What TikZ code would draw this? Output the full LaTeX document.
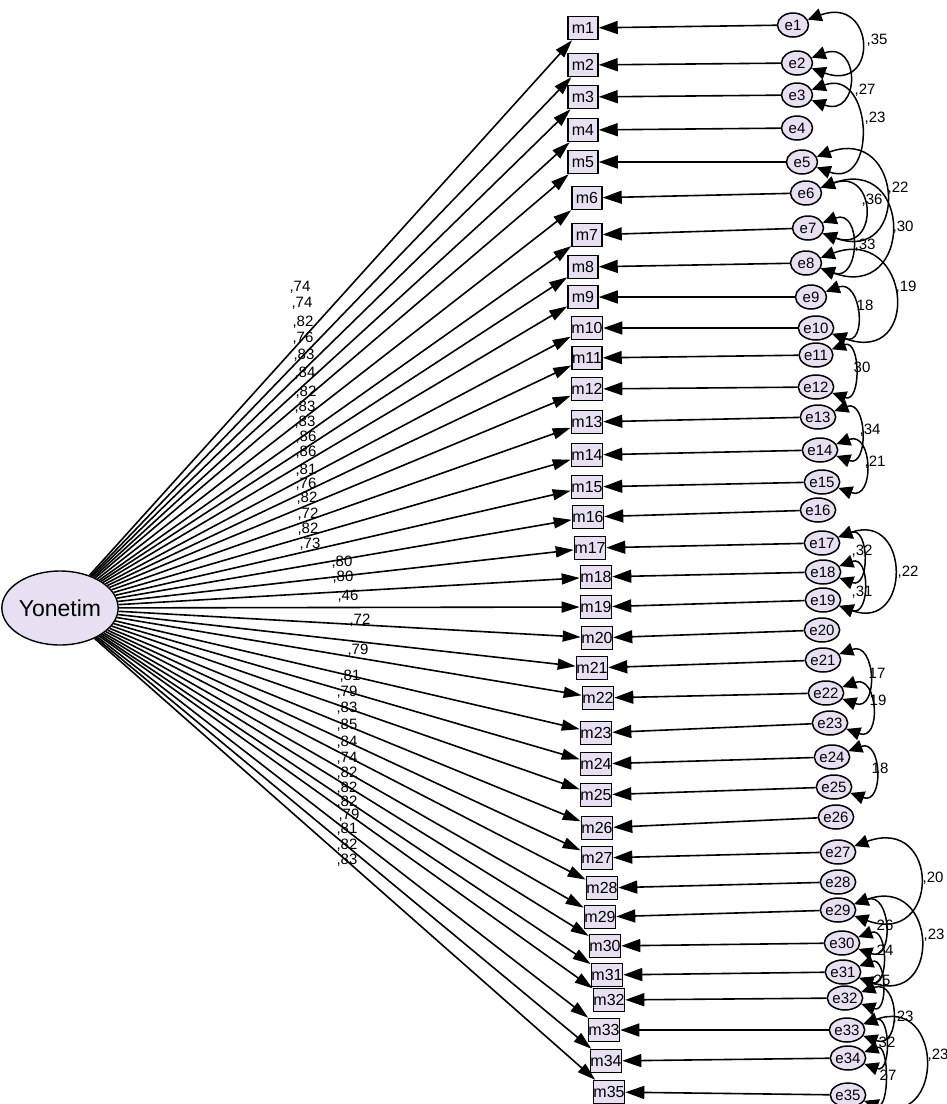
\documentclass[tikz,border=0pt]{standalone}
\usepackage{fontspec}
\setmainfont{Liberation Sans}
\usetikzlibrary{arrows.meta,shapes.geometric}
\definecolor{lav}{RGB}{232,224,242}
\tikzset{
  mbox/.style={draw, line width=1.5pt, fill=lav, minimum width=30pt, minimum height=23pt, inner sep=0pt, font=\fontsize{16}{16}\selectfont},
  ecirc/.style={draw, line width=1.5pt, fill=lav, ellipse, minimum width=31pt, minimum height=24pt, inner sep=0pt, font=\fontsize{15}{15}\selectfont},
  latent/.style={draw, line width=1.4pt, fill=lav, ellipse, minimum width=106pt, minimum height=74pt, inner sep=0pt, font=\fontsize{23}{23}\selectfont},
  load/.style={line width=1.6pt, -{Triangle[length=18pt,width=11pt]}},
  earr/.style={line width=1.6pt, -{Triangle[length=19pt,width=13pt]}},
  cov/.style={line width=1.5pt, {Triangle[length=14pt,width=13pt]}-{Triangle[length=14pt,width=13pt]}},
  lab/.style={inner sep=0pt, font=\fontsize{15}{15}\selectfont}
}
\begin{document}
\begin{tikzpicture}[x=1pt,y=1pt]
\useasboundingbox (0,0) rectangle (947,-1104);
\node[latent] (Y) at (60,-608) {Yonetim};
\foreach \i/\x/\y in {1/583/28,2/583/65,3/583/97,4/583/130,5/583/162,6/587/198,7/587/235,8/583/267,9/583/297,10/587/328,11/587/358,12/587/389,13/587/422,14/587/455,15/587/487,16/588/517,17/590/548,18/596/577,19/596/607,20/597/638,21/592/668,22/598/698,23/596/733,24/596/764,25/596/795,26/597/828,27/597/858,28/602/888,29/600/917,30/605/946,31/607/975,32/609/1000,33/604/1030,34/606/1061,35/609/1092}
  \node[mbox] (m\i) at (\x,-\y) {m\i};
\foreach \i/\x/\y in {1/793/25,2/797/63,3/797/95,4/797/128,5/802/162,6/806/193,7/808/228,8/806/263,9/811/297,10/816/328,11/816/355,12/816/387,13/818/417,14/820/450,15/822/482,16/818/510,17/822/543,18/823/572,19/823/600,20/822/630,21/823/660,22/826/693,23/830/723,24/832/757,25/834/787,26/836/817,27/838/852,28/838/882,29/838/910,30/842/943,31/843/972,32/845/998,33/847/1030,34/848/1058,35/848/1095}
  \node[ecirc] (e\i) at (\x,-\y) {e\i};
\foreach \i in {1,...,35} {
  \draw[load] (Y) -- (m\i);
  \draw[earr] (e\i) -- (m\i);
}
% loading labels
\foreach \n/\x/\y/\t in {1/300/287/{,74},2/302/303/{,74},3/303/322/{,82},4/303/338/{,76},5/304/355/{,83},6/305/373/{,84},7/306/392/{,82},8/305/407/{,83},9/305/422/{,83},10/306/437/{,86},11/306/452/{,86},12/306/470/{,81},13/306/484/{,76},14/307/498/{,82},15/308/514/{,72},16/308/529/{,82},17/310/544/{,73},18/342/562/{,80},19/343/577/{,80},20/348/596/{,46},21/360/620/{,72},22/358/650/{,79},23/350/676/{,81},24/347/692/{,79},25/347/708/{,83},26/347/725/{,85},27/347/742/{,84},28/347/758/{,74},29/347/773/{,82},30/347/788/{,82},31/347/802/{,82},32/349/815/{,79},33/347/829/{,81},34/347/845/{,82},35/347/860/{,83}}
  \node[lab] (L\n) at (\x,-\y) {\t};
% covariances
\foreach \a/\b/\d/\t/\x/\y [count=\k] in {1/2/72/{,35}/877/40,2/3/52/{,27}/865/90,3/5/65/{,23}/875/118,5/7/93/{,22}/898/188,6/7/60/{,36}/872/200,6/8/99/{,30}/903/227,7/8/42/{,33}/865/245,8/10/96/{,19}/906/287,9/10/38/{18}/865/305,11/12/31/{30}/862/367,13/14/35/{,34}/870/430,14/15/39/{,21}/875/462,17/18/33/{,32}/862/551,18/19/33/{,31}/862/592,17/19/77/{,22}/908/572,21/22/39/{17}/877/673,22/23/38/{19}/878/700,24/25/36/{18}/880/768,27/29/92/{,20}/933/878,29/30/39/{26}/885/925,30/31/32/{24}/885/950,29/31/89/{,23}/934/935,31/32/29/{25}/882/980,32/33/41/{,23}/903/1017,33/34/29/{32}/887/1042,34/35/27/{27}/888/1075,33/35/86/{,23}/938/1055}
{
  \draw[cov] (e\a) to[out=20,in=-20,distance=\d pt] (e\b);
  \node[lab] (C\k) at (\x,-\y) {\t};
}
\end{tikzpicture}
\end{document}
